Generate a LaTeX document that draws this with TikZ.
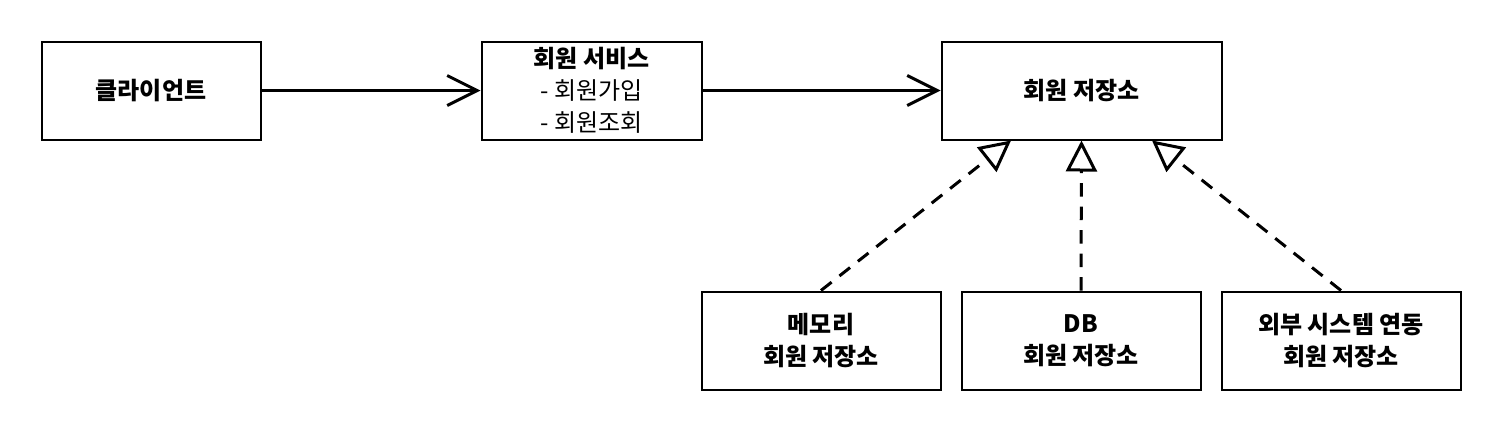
\documentclass[tikz,border=0pt]{standalone}
\usepackage{fontspec}
\setmainfont{Noto Sans CJK KR}
\usetikzlibrary{arrows.meta,calc}
\tikzset{
  box/.style={draw, line width=2pt, rectangle, inner sep=0pt, minimum height=98pt, align=center,
    font=\fontsize{24}{32}\selectfont},
  assoc/.style={line width=3pt, -{Straight Barb[length=30pt,width=30pt,line join=miter]}},
  real/.style={line width=3pt, dash pattern=on 13.5pt off 10pt, -{Triangle[open,length=31pt,width=31pt,line join=miter]}},
}
\begin{document}
\begin{tikzpicture}[x=1pt,y=-1pt]
\useasboundingbox (0,0) rectangle (1502,432);
\node[box, minimum width=219pt] (client) at (151,90.5) {\bfseries 클라이언트};
\node[box, minimum width=220pt] (svc) at (591.5,90.5) {\bfseries 회원 서비스\\- 회원가입\\- 회원조회};
\node[box, minimum width=280pt] (repo) at (1081.5,90.5) {\bfseries 회원 저장소};
\node[box, minimum width=239pt] (mem) at (821,340.5) {\bfseries 메모리\\\bfseries 회원 저장소};
\node[box, minimum width=239pt] (db) at (1081,340.5) {\bfseries DB\\\bfseries 회원 저장소};
\node[box, minimum width=239pt] (ext) at (1341,340.5) {\bfseries 외부 시스템 연동\\\bfseries 회원 저장소};
\draw[assoc] (client) -- (svc);
\draw[assoc] (svc) -- (repo);
\draw[real] (mem.north) -- ($(repo.south west)!0.25!(repo.south east)$);
\draw[real] (db.north) -- (repo.south);
\draw[real] (ext.north) -- ($(repo.south west)!0.75!(repo.south east)$);
\end{tikzpicture}
\end{document}
